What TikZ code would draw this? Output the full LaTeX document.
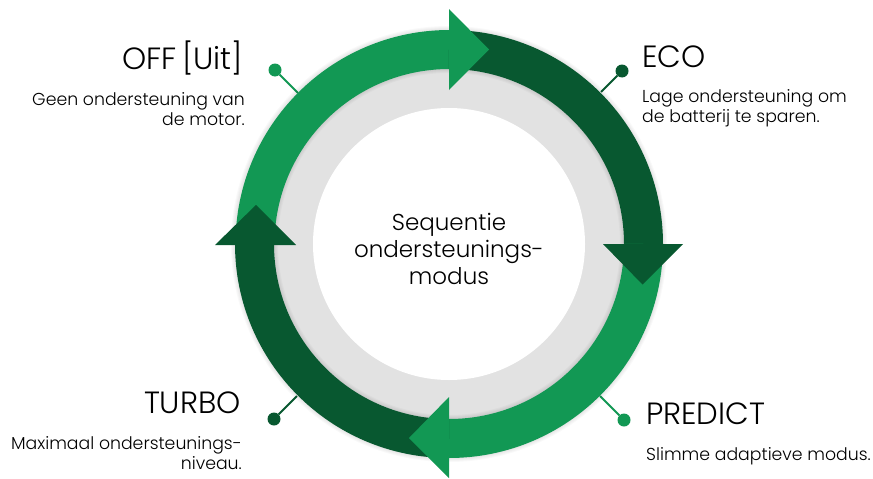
\documentclass[tikz,border=0pt]{standalone}
\usepackage{fontspec}
\setmainfont{Poppins}
\newfontfamily\lightfont{Poppins Light}
\definecolor{lightgreen}{RGB}{18,152,84}
\definecolor{darkgreen}{RGB}{8,88,48}
\definecolor{ringgrey}{RGB}{226,226,226}
\tikzset{
  band/.style={line width=39pt,line cap=butt},
  head/.style={fill=#1,draw=none},
  pin/.style={circle,fill=#1,draw=none,minimum size=13pt,inner sep=0pt},
  stem/.style={draw=#1,line width=1.8pt},
  title/.style={inner sep=0pt,font=\lightfont\fontsize{30.7}{31}\selectfont},
  desc/.style={inner sep=0pt,font=\lightfont\fontsize{17.3}{20}\selectfont,align=#1},
  center label/.style={inner sep=0pt,font=\lightfont\fontsize{23}{27}\selectfont,align=center}
}
\begin{document}
\begin{tikzpicture}[x=1pt,y=-1pt]
\useasboundingbox (0,0) rectangle (873,479);
\fill[white] (0,0) rectangle (873,479);
\coordinate (c) at (449,244);
% connectors
\coordinate (offend) at (298,93);
\coordinate (ecoend) at (601,92);
\coordinate (turboend) at (297,396);
\coordinate (predictend) at (600,396);
\node[pin=lightgreen] (offpin) at (275,70) {};
\node[pin=darkgreen] (ecopin) at (622,71) {};
\node[pin=darkgreen] (turbopin) at (274,419) {};
\node[pin=lightgreen] (predictpin) at (624,420) {};
\draw[stem=lightgreen] (offpin) -- (offend);
\draw[stem=darkgreen] (ecopin) -- (ecoend);
\draw[stem=darkgreen] (turbopin) -- (turboend);
\draw[stem=lightgreen] (predictpin) -- (predictend);
% ring
\fill[ringgrey] (c) circle[radius=176];
\fill[white] (c) circle[radius=136];
\foreach \w in {41,43,45,47}
  \draw[black,opacity=.025,line width=\w pt] (c) circle[radius=194.5];
% bands
\draw[band,lightgreen] (255,244) arc[start angle=180,end angle=270,radius=194.5];
\draw[band,darkgreen] (449,49.5) arc[start angle=270,end angle=360,radius=194.5];
\draw[band,lightgreen] (643.5,244) arc[start angle=0,end angle=90,radius=194.5];
\draw[band,darkgreen] (449,438.5) arc[start angle=90,end angle=180,radius=194.5];
% heads
\fill[head=lightgreen] (449,9) -- (489,49.5) -- (449,90) -- cycle;
\fill[head=darkgreen] (603,244) -- (683,244) -- (642.5,284.5) -- cycle;
\fill[head=lightgreen] (449,397) -- (409,438) -- (449,478) -- cycle;
\fill[head=darkgreen] (215,245) -- (296,245) -- (256,205) -- cycle;
% texts
\node[center label,anchor=base] (mid) at (449,284) {Sequentie\\ondersteunings-\\modus};
\node[title,anchor=base east] (off) at (243,69) {OFF\hspace{5.5pt}[Uit]};
\node[desc=right,anchor=base east] (offd) at (245,125) {Geen ondersteuning van\\de motor.};
\node[title,anchor=base west] (eco) at (642,67) {ECO};
\node[desc=left,anchor=base west] (ecod) at (642,122) {Lage ondersteuning om\\de batterij te sparen.};
\node[title,anchor=base east] (turbo) at (241,413) {TURBO};
\node[desc=right,anchor=base east] (turbod) at (242,469) {Maximaal ondersteunings-\\niveau.};
\node[title,anchor=base west] (predict) at (646,424) {PREDICT};
\node[desc=left,anchor=base west] (predictd) at (646,460) {Slimme adaptieve modus.};
\end{tikzpicture}
\end{document}
